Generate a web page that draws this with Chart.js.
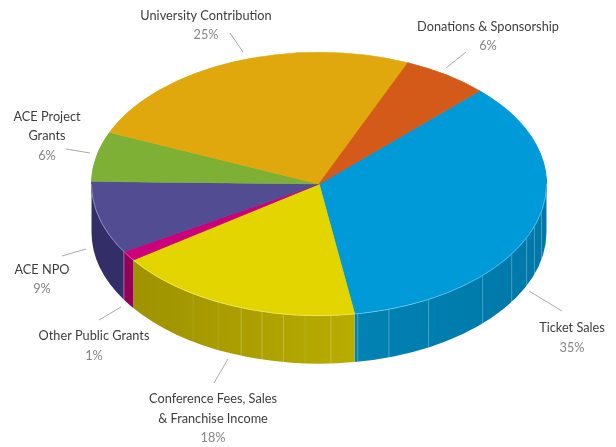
<!DOCTYPE html>
<html><head><meta charset="utf-8">
<style>html,body{margin:0;padding:0;background:#fff}canvas{display:block}</style>
<script src="https://cdn.jsdelivr.net/npm/chart.js@4/dist/chart.umd.min.js"></script>
</head><body><canvas id="c" width="616" height="447"></canvas>
<script>
// Data
const categories = ["Ticket Sales","Conference Fees, Sales & Franchise Income","Other Public Grants","ACE NPO","ACE Project Grants","University Contribution","Donations & Sponsorship"];
const values = [35,17.7,1.2,8.9,6.1,25,6.1];
const percentLabels = ["35%","18%","1%","9%","6%","25%","6%"];
// Styles
const topColors = ["#009ad8","#e3d500","#cc007a","#524d92","#7fb036","#e0a80c","#d45a1a"];
const wallLeft  = ["#0082b3","#9e9200","#96005a","#332e68","#5f8428","#a87e08","#9f4313"];
const wallRight = ["#0078a8","#b8ac00","#96005a","#332e68","#5f8428","#a87e08","#9f4313"];
const facetDegrees = [-33.6,-26.3,-20,-14.5,-9,-3.5,3,9.8,17.9,28.8,46,57.9,65.9,71.3,78];
const facetAlpha   = [0.10,0.12,0.25,0.25,0.25,0.10,0.28,0.28,0.28,0.28,0.28,0.28,0.28,0.28,0.28];
// Layout
const labelLines = [["Ticket Sales"],["Conference Fees, Sales","& Franchise Income"],["Other Public Grants"],["ACE NPO"],["ACE Project","Grants"],["University Contribution"],["Donations & Sponsorship"]];
const labelX = [572,213,94,42,47,206,488];
const labelY = [[327,347],[398,418,437],[335,355],[269,288],[116,135,155],[15,34],[26,45]];
const leaders = [[529,291,562,311],[214,383,228,359],[99,320,121,307],[62,256,86,249],[66,149,90,153],[230,33,243,52],[466,52,446,68]];
const wallDepth = 48, squashX = 228/132, textCondense = 0.91;

const pie3d = {
  id:'pie3d',
  beforeDatasetsDraw(chart){
    const ctx = chart.ctx, arcs = chart.getDatasetMeta(0).data;
    const c = arcs[0], rx = c.outerRadius*squashX, ry = c.outerRadius;
    const wall = (a0,a1)=>{
      ctx.beginPath();
      ctx.ellipse(c.x,c.y,rx,ry,0,a0,a1);
      ctx.lineTo(c.x+rx*Math.cos(a1),c.y+ry*Math.sin(a1)+wallDepth);
      ctx.ellipse(c.x,c.y+wallDepth,rx,ry,0,a1,a0,true);
      ctx.closePath();
    };
    arcs.forEach((arc,i)=>{
      for(const shift of [-2*Math.PI,0,2*Math.PI]){
        const a0 = Math.max(arc.startAngle+shift,0), a1 = Math.min(arc.endAngle+shift,Math.PI);
        if(a1<=a0) continue;
        const g = ctx.createLinearGradient(c.x+rx*Math.cos(a1),0,c.x+rx*Math.cos(a0),0);
        g.addColorStop(0,wallLeft[i]); g.addColorStop(1,wallRight[i]);
        ctx.fillStyle = g;
        wall(a0,a1); ctx.fill();
      }
    });
    // facet lines and slice seam on the wall
    ctx.lineWidth=1;
    facetDegrees.forEach((d,i)=>{
      const a=Math.PI/2-d*Math.PI/180, x=c.x+rx*Math.cos(a), y=c.y+ry*Math.sin(a);
      ctx.strokeStyle='rgba(255,255,255,'+facetAlpha[i]+')';
      ctx.beginPath(); ctx.moveTo(x,y); ctx.lineTo(x,y+wallDepth); ctx.stroke();
    });
    ctx.strokeStyle='rgba(255,255,255,0.35)';
    const a=arcs[2].endAngle, x=c.x+rx*Math.cos(a), y=c.y+ry*Math.sin(a);
    ctx.beginPath(); ctx.moveTo(x,y); ctx.lineTo(x,y+wallDepth); ctx.stroke();
    ctx.save();
    ctx.translate(c.x,c.y); ctx.scale(squashX,1); ctx.translate(-c.x,-c.y);
  },
  afterDatasetsDraw(chart){
    const ctx = chart.ctx, arcs = chart.getDatasetMeta(0).data;
    ctx.restore();
    const c = arcs[0], rx = c.outerRadius*squashX, ry = c.outerRadius;
    // faint light rim along the front edge
    ctx.strokeStyle='rgba(255,255,255,0.3)'; ctx.lineWidth=1;
    ctx.beginPath(); ctx.ellipse(c.x,c.y,rx,ry,0,0,Math.PI); ctx.stroke();
    // leaders
    ctx.strokeStyle='#a9a9ab'; ctx.lineWidth=1;
    leaders.forEach(l=>{ctx.beginPath();ctx.moveTo(l[0],l[1]);ctx.lineTo(l[2],l[3]);ctx.stroke();});
    // labels
    ctx.font='14px Lato'; ctx.textAlign='center'; ctx.textBaseline='middle';
    const put=(t,x,y)=>{ctx.save();ctx.translate(x,y);ctx.scale(textCondense,1);ctx.fillText(t,0,0);ctx.restore();};
    categories.forEach((_,i)=>{
      ctx.fillStyle='#3d3d3f';
      labelLines[i].forEach((t,j)=>put(t,labelX[i],labelY[i][j]));
      ctx.fillStyle='#858587';
      put(percentLabels[i],labelX[i],labelY[i][labelLines[i].length]);
    });
  }
};

new Chart(document.getElementById('c'),{
  type:'pie',
  data:{labels:categories,datasets:[{data:values,backgroundColor:topColors,borderColor:topColors,borderWidth:0.6,clip:false}]},
  options:{
    responsive:false,animation:false,rotation:45,
    layout:{padding:{left:187,right:165,top:52,bottom:131}},
    plugins:{legend:{display:false},tooltip:{enabled:false}},
    events:[]
  },
  plugins:[pie3d]
});
</script></body></html>
